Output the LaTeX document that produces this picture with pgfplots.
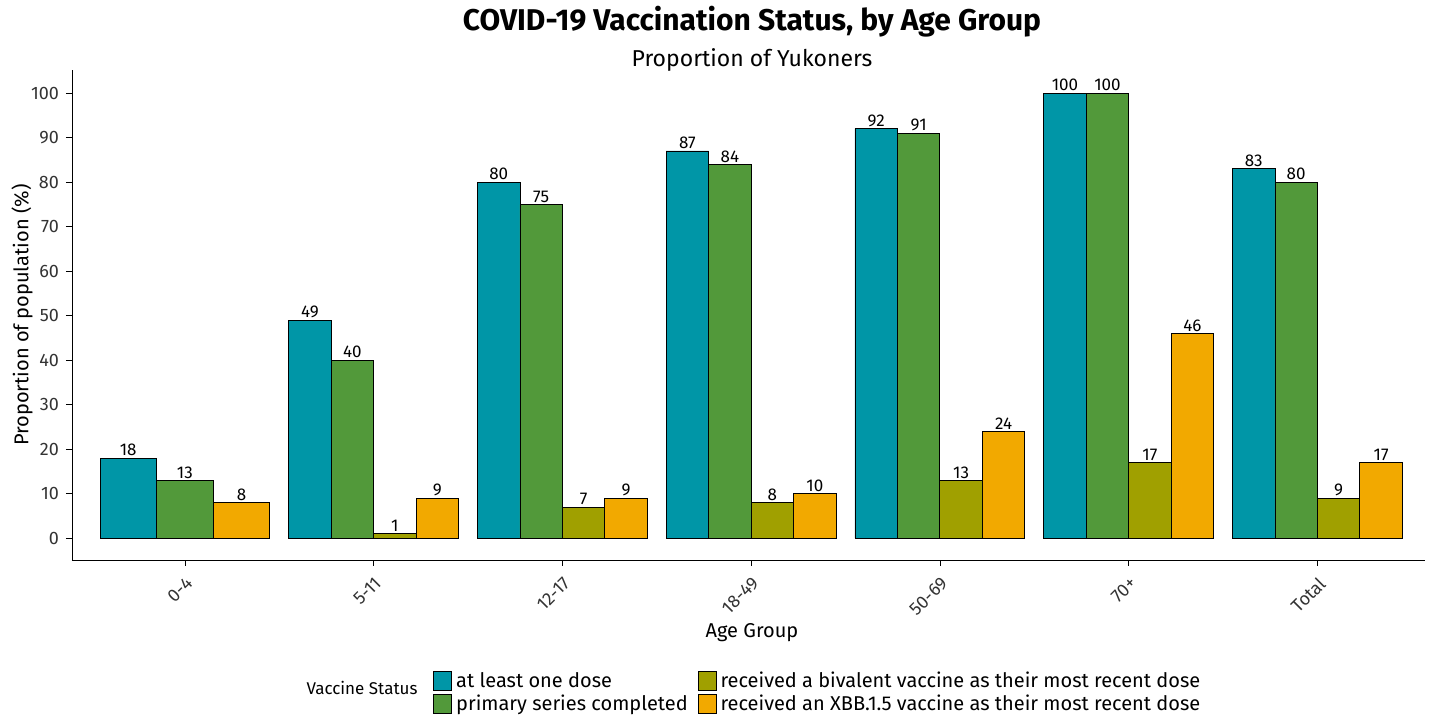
\documentclass[border=0pt]{standalone}
\usepackage{pgfplots}
\pgfplotsset{compat=1.18}
\usepackage{fontspec}
\setmainfont{Fira Sans}
\definecolor{cA}{RGB}{0,150,167}
\definecolor{cB}{RGB}{82,153,58}
\definecolor{cC}{RGB}{160,160,0}
\definecolor{cD}{RGB}{242,169,0}
\begin{document}
\begin{tikzpicture}
\useasboundingbox (-36pt,-78.5pt) rectangle (682.5pt,280pt);
\begin{axis}[at={(0,0)},anchor=south west,scale only axis,width=676.5pt,height=245pt,
 xmin=-0.598,xmax=6.57,ymin=-4.9,ymax=105.2,
 axis x line*=bottom, axis y line*=left, axis line style={-},
 ybar, bar width=0.225,
 xtick={0,...,6}, xticklabels={0-4,5-11,12-17,18-49,50-69,70+,Total},
 xticklabel style={rotate=45,anchor=north east,font=\fontsize{9}{10}\selectfont,text=black!80},
 ytick={0,10,...,100},
 yticklabel style={font=\fontsize{9}{10}\selectfont,text=black!80},
 /pgf/number format/assume math mode=true,
 tick align=outside, tick style={black}, major tick length=3pt,
 every node near coord/.append style={font=\fontsize{8.5}{9}\selectfont,text=black,yshift=-2.5pt},
 nodes near coords,
 legend columns=2, legend cell align=left,
 legend style={at={(0.552,-0.215)},anchor=north,draw=none,font=\fontsize{10}{11}\selectfont,
   /tikz/every even column/.append style={column sep=3pt},row sep=-1.5pt,inner sep=1pt},
 legend image code/.code={\draw[#1,draw=black] (0pt,-4.5pt) rectangle (9pt,5pt);},
 every axis plot/.append style={draw=black,line width=0.4pt},
]
\addplot[fill=cA,bar shift=-0.3375] coordinates {(1,49)(2,80)(3,87)(4,92)(5,100)(6,83)};
\addlegendentry{at least one dose}
\addplot[fill=cC,bar shift=0.1125] coordinates {(1,1)(2,7)(3,8)(4,13)(5,17)(6,9)};
\addlegendentry{received a bivalent vaccine as their most recent dose}
\addplot[fill=cB,bar shift=-0.1125] coordinates {(1,40)(2,75)(3,84)(4,91)(5,100)(6,80)};
\addlegendentry{primary series completed}
\addplot[fill=cD,bar shift=0.3375] coordinates {(1,9)(2,9)(3,10)(4,24)(5,46)(6,17)};
\addlegendentry{received an XBB.1.5 vaccine as their most recent dose}
\addplot[forget plot,fill=cA,bar width=0.3,bar shift=-0.3] coordinates {(0,18)};
\addplot[forget plot,fill=cB,bar width=0.3,bar shift=0] coordinates {(0,13)};
\addplot[forget plot,fill=cD,bar width=0.3,bar shift=0.3] coordinates {(0,8)};
\end{axis}
\node[font=\bfseries\fontsize{15}{18}\selectfont] at (340pt,269pt) {COVID-19 Vaccination Status, by Age Group};
\node[font=\fontsize{11.5}{14}\selectfont] at (340pt,250pt) {Proportion of Yukoners};
\node[font=\fontsize{10}{12}\selectfont] at (340pt,-36.5pt) {Age Group};
\node[font=\fontsize{10}{12}\selectfont,rotate=90] at (-25pt,122.5pt) {Proportion of population (\%)};
\node[font=\fontsize{8.5}{10}\selectfont] at (145pt,-64pt) {Vaccine Status};
\end{tikzpicture}
\end{document}
